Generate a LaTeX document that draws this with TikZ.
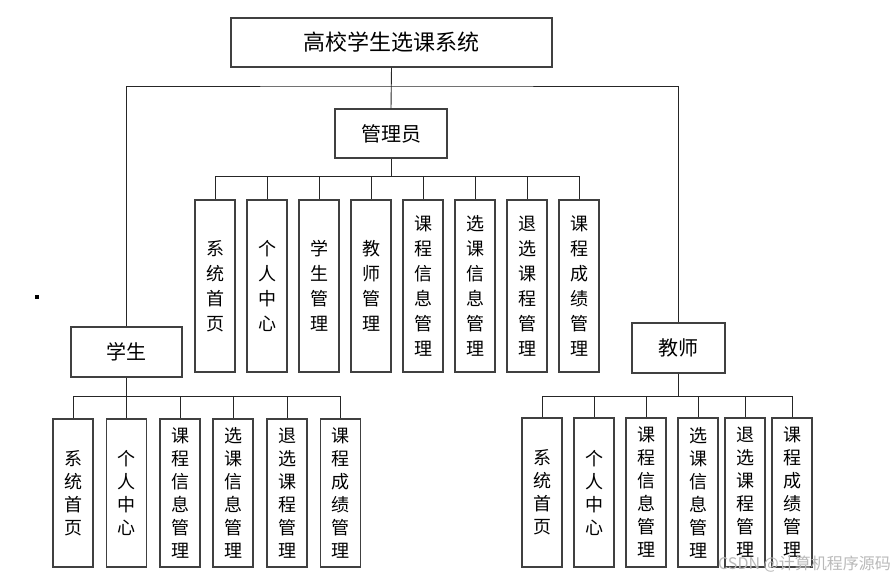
\documentclass[tikz,border=0pt]{standalone}
\usepackage{fontspec}
\usepackage{tikz}
\newfontfamily\cjk{Noto Sans CJK SC}

\tikzset{
  box/.style={draw=black!75, line width=1.1pt, fill=white, inner sep=0pt, font=\cjk\fontsize{20}{24}\selectfont},
  leaf/.style={box, minimum width=40pt, align=center, font=\cjk\fontsize{18}{23}\selectfont},
  tallleaf/.style={leaf, minimum height=172pt, font=\cjk\fontsize{18}{25}\selectfont},
  link/.style={draw=black!85, line width=0.9pt}
}

\begin{document}
\begin{tikzpicture}[x=1pt,y=-1pt]
 \useasboundingbox (0,0) rectangle (895,579);
 % top level
 \node[box, minimum width=321pt, minimum height=49pt, font=\cjk\fontsize{22}{26}\selectfont] (sys) at (391.5,42.5) {高校学生选课系统};
 \node[box, minimum width=112pt, minimum height=49pt] (admin) at (391,133.5) {管理员};
 \node[box, minimum width=111pt, minimum height=50pt] (stu) at (126.5,352) {学生};
 \node[box, minimum width=93pt, minimum height=50pt] (tea) at (678.5,348) {教师};
 \coordinate (bus0) at (391,86);
 \draw[link] (sys.south) -- (admin.north);
 \draw[link] (stu.north) |- (bus0) -| (tea.north);
 % admin children
 \node[tallleaf] (a1) at (215,286) {系\\统\\首\\页};
 \node[tallleaf] (a2) at (267,286) {个\\人\\中\\心};
 \node[tallleaf] (a3) at (319,286) {学\\生\\管\\理};
 \node[tallleaf] (a4) at (371,286) {教\\师\\管\\理};
 \node[tallleaf] (a5) at (423,286) {课\\程\\信\\息\\管\\理};
 \node[tallleaf] (a6) at (475,286) {选\\课\\信\\息\\管\\理};
 \node[tallleaf] (a7) at (527,286) {退\\选\\课\\程\\管\\理};
 \node[tallleaf] (a8) at (579,286) {课\\程\\成\\绩\\管\\理};
 \draw[link] (admin.south) -- ++(0,18) coordinate (abus);
 \draw[link] (abus) -| (a1.north);
 \draw[link] (abus) -| (a2.north);
 \draw[link] (abus) -| (a3.north);
 \draw[link] (abus) -| (a4.north);
 \draw[link] (abus) -| (a5.north);
 \draw[link] (abus) -| (a6.north);
 \draw[link] (abus) -| (a7.north);
 \draw[link] (abus) -| (a8.north);
 % student children
 \node[leaf, minimum height=148pt] (s1) at (73,493) {系\\统\\首\\页};
 \node[leaf, minimum height=148pt] (s2) at (126.5,493) {个\\人\\中\\心};
 \node[leaf, minimum height=148pt] (s3) at (180,493) {课\\程\\信\\息\\管\\理};
 \node[leaf, minimum height=148pt] (s4) at (233,493) {选\\课\\信\\息\\管\\理};
 \node[leaf, minimum height=148pt] (s5) at (287,493) {退\\选\\课\\程\\管\\理};
 \node[leaf, minimum height=148pt] (s6) at (340.5,493) {课\\程\\成\\绩\\管\\理};
 \draw[link] (stu.south) -- ++(0,19) coordinate (sbus);
 \draw[link] (sbus) -| (s1.north);
 \draw[link] (sbus) -| (s2.north);
 \draw[link] (sbus) -| (s3.north);
 \draw[link] (sbus) -| (s4.north);
 \draw[link] (sbus) -| (s5.north);
 \draw[link] (sbus) -| (s6.north);
 % teacher children
 \node[leaf, minimum height=149pt] (t1) at (542,492.5) {系\\统\\首\\页};
 \node[leaf, minimum height=149pt] (t2) at (594,492.5) {个\\人\\中\\心};
 \node[leaf, minimum height=149pt] (t3) at (646,492.5) {课\\程\\信\\息\\管\\理};
 \node[leaf, minimum height=149pt] (t4) at (698,492.5) {选\\课\\信\\息\\管\\理};
 \node[leaf, minimum height=149pt] (t5) at (745,492.5) {退\\选\\课\\程\\管\\理};
 \node[leaf, minimum height=149pt] (t6) at (792,492.5) {课\\程\\成\\绩\\管\\理};
 \draw[link] (tea.south) -- ++(0,23) coordinate (tbus);
 \draw[link] (tbus) -| (t1.north);
 \draw[link] (tbus) -| (t2.north);
 \draw[link] (tbus) -| (t3.north);
 \draw[link] (tbus) -| (t4.north);
 \draw[link] (tbus) -| (t5.north);
 \draw[link] (tbus) -| (t6.north);
 % stray mark and watermark
 \fill (35,295) rectangle (39,299);
 \node[anchor=east, text=gray!55, font=\cjk\fontsize{16}{18}\selectfont, inner sep=0pt] (wm) at (891,564) {CSDN @计算机程序源码};
\end{tikzpicture}
\end{document}
